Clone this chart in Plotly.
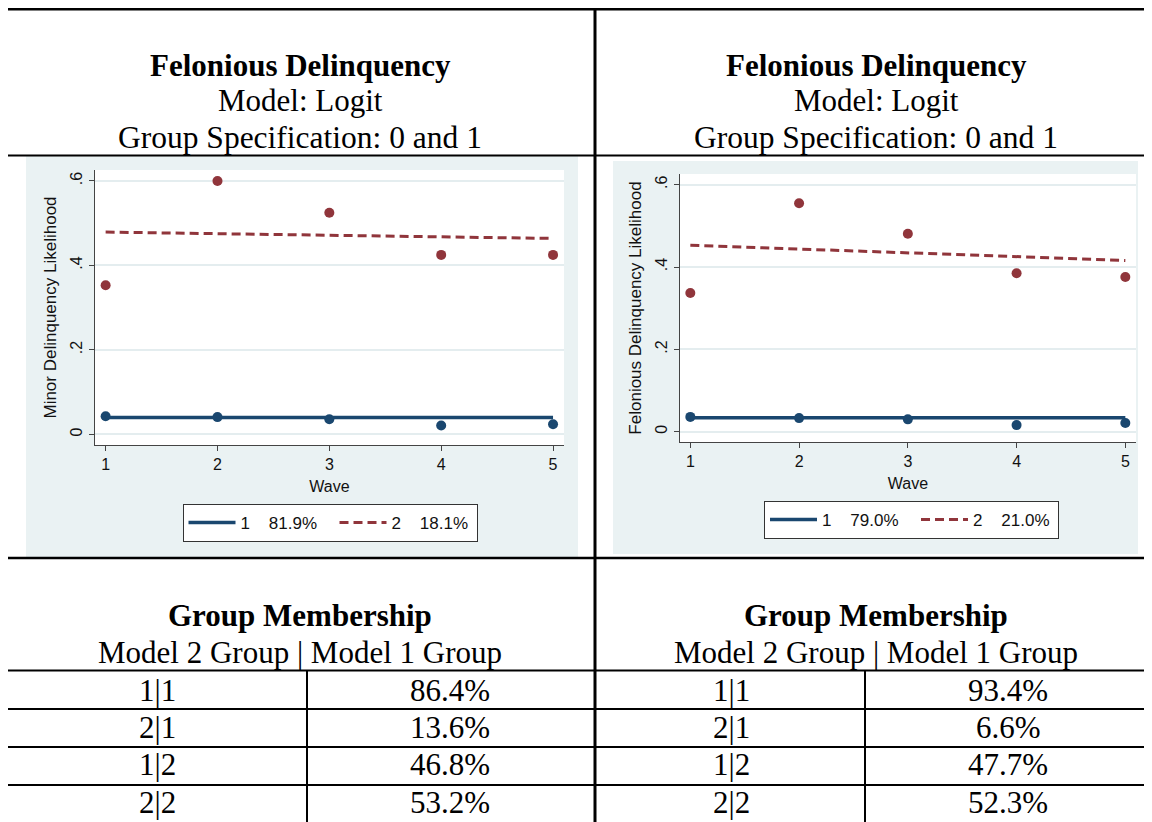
import plotly.graph_objects as go

# ---------------- data ----------------
waves = [1, 2, 3, 4, 5]
tick_vals = [0, 0.2, 0.4, 0.6]
tick_text = ["0", ".2", ".4", ".6"]

left_g1_obs = [0.043, 0.041, 0.036, 0.021, 0.024]
left_g1_fit = [0.040, 0.040, 0.040, 0.040, 0.040]
left_g2_obs = [0.353, 0.600, 0.525, 0.425, 0.425]
left_g2_fit = [0.479, 0.475, 0.472, 0.468, 0.464]

right_g1_obs = [0.036, 0.033, 0.030, 0.016, 0.021]
right_g1_fit = [0.034, 0.034, 0.034, 0.034, 0.034]
right_g2_obs = [0.337, 0.555, 0.481, 0.385, 0.376]
right_g2_fit = [0.453, 0.444, 0.435, 0.425, 0.416]

left_legend = ["1\u00a0\u00a0\u00a0\u00a081.9%", "2\u00a0\u00a0\u00a0\u00a018.1%"]
right_legend = ["1\u00a0\u00a0\u00a0\u00a079.0%", "2\u00a0\u00a0\u00a0\u00a021.0%"]

header_title = "Felonious Delinquency"
header_model = "Model: Logit"
header_spec = "Group Specification: 0 and 1"
left_ytitle = "Minor Delinquency Likelihood"
right_ytitle = "Felonious Delinquency Likelihood"
xtitle = "Wave"

table_title = "Group Membership"
table_sub = "Model 2 Group | Model 1 Group"
row_labels = ["1|1", "2|1", "1|2", "2|2"]
left_pct = ["86.4%", "13.6%", "46.8%", "53.2%"]
right_pct = ["93.4%", "6.6%", "47.7%", "52.3%"]

# ---------------- style ----------------
OFF = 8                      # page body margin
W, H = 1152 - OFF, 822 - OFF
BLUE = "#1a476f"
RED = "#90353b"
PANEL = "#eaf2f3"
GRID = "#e4edef"
AXIS = "#444444"
TXT = "#111111"
SERIF = "Liberation Serif, Times New Roman, serif"
SANS = "Liberation Sans, Arial, sans-serif"


def px(x):
    return (x - OFF) / W


def py(y):
    return 1 - (y - OFF) / H


fig = go.Figure()

panels = [
    dict(xa="x", ya="y", legend="legend",
         g1o=left_g1_obs, g1f=left_g1_fit, g2o=left_g2_obs, g2f=left_g2_fit,
         names=left_legend),
    dict(xa="x2", ya="y2", legend="legend2",
         g1o=right_g1_obs, g1f=right_g1_fit, g2o=right_g2_obs, g2f=right_g2_fit,
         names=right_legend),
]

for p in panels:
    fig.add_trace(go.Scatter(x=waves, y=p["g1o"], mode="markers", xaxis=p["xa"], yaxis=p["ya"],
                             marker=dict(color=BLUE, size=10), showlegend=False, hoverinfo="skip"))
    fig.add_trace(go.Scatter(x=waves, y=p["g2o"], mode="markers", xaxis=p["xa"], yaxis=p["ya"],
                             marker=dict(color=RED, size=10), showlegend=False, hoverinfo="skip"))
    fig.add_trace(go.Scatter(x=waves, y=p["g1f"], mode="lines", xaxis=p["xa"], yaxis=p["ya"],
                             line=dict(color=BLUE, width=3.5), name=p["names"][0],
                             legend=p["legend"]))
    fig.add_trace(go.Scatter(x=waves, y=p["g2f"], mode="lines", xaxis=p["xa"], yaxis=p["ya"],
                             line=dict(color=RED, width=3, dash="9px,5px"), name=p["names"][1],
                             legend=p["legend"], legendwidth=80))

# plot areas in page pixels
L = dict(x0=95, x1=564, y0=170, y1=445)
R = dict(x0=680, x1=1136, y0=174, y1=442)

FS = 16
xaxis_common = dict(range=[0.905, 5.098], tickvals=waves, ticks="outside", ticklen=5,
                    tickcolor=AXIS, showline=True, linecolor=AXIS, linewidth=1,
                    showgrid=False, zeroline=False,
                    tickfont=dict(family=SANS, size=FS, color=TXT),
                    title=dict(text=xtitle, font=dict(family=SANS, size=FS, color=TXT), standoff=8))
yaxis_common = dict(range=[-0.025, 0.626], tickvals=tick_vals, ticktext=tick_text, ticks="outside",
                    ticklen=5, tickcolor=AXIS, showline=True, linecolor=AXIS, linewidth=1,
                    showgrid=True, gridcolor=GRID, gridwidth=1.5, zeroline=False, tickangle=-90,
                    ticklabelstandoff=1,
                    tickfont=dict(family=SANS, size=FS, color=TXT))

legend_common = dict(orientation="h", xanchor="center", yanchor="top",
                     bgcolor="white", bordercolor="#333", borderwidth=1,
                     itemwidth=47, entrywidth=89, entrywidthmode="pixels",
                     font=dict(family=SANS, size=17, color=TXT))

fig.update_layout(
    width=W, height=H, margin=dict(l=0, r=0, t=0, b=0),
    paper_bgcolor="white", plot_bgcolor="white",
    xaxis=dict(domain=[px(L["x0"]), px(L["x1"])], anchor="y", **xaxis_common),
    yaxis=dict(domain=[py(L["y1"]), py(L["y0"])], anchor="x",
               title=dict(text=left_ytitle, font=dict(family=SANS, size=17, color=TXT), standoff=6),
               **yaxis_common),
    xaxis2=dict(domain=[px(R["x0"]), px(R["x1"])], anchor="y2", **xaxis_common),
    yaxis2=dict(domain=[py(R["y1"]), py(R["y0"])], anchor="x2",
                title=dict(text=right_ytitle, font=dict(family=SANS, size=17, color=TXT), standoff=6),
                **yaxis_common),
    legend=dict(x=px(330), y=py(504), **legend_common),
    legend2=dict(x=px(911.5), y=py(501), **legend_common),
    showlegend=True,
)

shapes = []
# gray panel backgrounds
shapes.append(dict(type="rect", xref="paper", yref="paper", x0=px(26), x1=px(578), y0=py(557), y1=py(156),
                   fillcolor=PANEL, line=dict(width=0), layer="below"))
shapes.append(dict(type="rect", xref="paper", yref="paper", x0=px(613), x1=px(1138), y0=py(554), y1=py(161),
                   fillcolor=PANEL, line=dict(width=0), layer="below"))
# white plot regions
for xr, yr in (("x", "y"), ("x2", "y2")):
    shapes.append(dict(type="rect", xref=xr + " domain", yref=yr + " domain", x0=0, x1=1, y0=0, y1=1,
                       fillcolor="white", line=dict(width=0), layer="below"))


# table rules
def hline(y, w=2):
    shapes.append(dict(type="line", xref="paper", yref="paper", x0=px(8), x1=1, y0=py(y), y1=py(y),
                       line=dict(color="black", width=w)))


def vline(x, y0, y1, w=2):
    shapes.append(dict(type="line", xref="paper", yref="paper", x0=px(x), x1=px(x), y0=py(y0), y1=py(y1),
                       line=dict(color="black", width=w)))


hline(9.2, 2.5)
hline(155.5, 2)
hline(558, 2.5)
hline(670.5, 2)
hline(709, 2)
hline(747, 2)
hline(785, 2)
vline(595, 8, 822, 3)
vline(307, 670, 822, 2)
vline(865, 670, 822, 2)
fig.update_layout(shapes=shapes)

ann = []


def text(x, y, s, size=31, bold=False):
    ann.append(dict(x=px(x), y=py(y), xref="paper", yref="paper", showarrow=False,
                    text=("<b>%s</b>" % s) if bold else s, xanchor="center", yanchor="middle",
                    font=dict(family=SERIF, size=size, color="black")))


for cx in (300, 876):
    text(cx, 65, header_title, bold=True)
    text(cx, 101, header_model)
    text(cx, 137, header_spec, size=31.5)
    text(cx, 615, table_title, bold=True)
    text(cx, 652, table_sub)

row_y = [690, 727, 764, 802]
for i, ry in enumerate(row_y):
    text(157, ry, row_labels[i])
    text(450, ry, left_pct[i])
    text(731, ry, row_labels[i])
    text(1008, ry, right_pct[i])

fig.update_layout(annotations=ann)

fig.write_html("out.html")
